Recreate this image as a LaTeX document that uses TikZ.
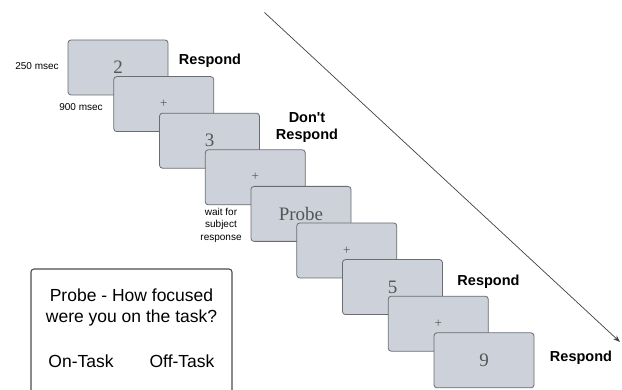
\documentclass[tikz,border=0pt]{standalone}
\usepackage{fontspec}
\setmainfont{Liberation Sans}
\newfontfamily\serifface{Liberation Serif}
\usetikzlibrary{arrows.meta}
\definecolor{cardfill}{HTML}{CDD1DA}
\definecolor{cardedge}{HTML}{6A6C70}
\definecolor{cardtext}{HTML}{555555}
\begin{document}
\begin{tikzpicture}[x=1pt,y=-1pt,
  card/.style={draw=cardedge, fill=cardfill, line width=0.8pt, rounded corners=3pt,
    minimum width=100pt, minimum height=55pt, inner sep=0pt, text=cardtext},
  stim/.style={font=\serifface\fontsize{19}{19}\selectfont},
  fix/.style={font=\serifface\fontsize{13}{13}\selectfont},
  resp/.style={font=\bfseries\fontsize{14.5}{17}\selectfont, align=center},
  small/.style={font=\fontsize{10}{12.5}\selectfont, align=center},
  big/.style={font=\fontsize{17.5}{21}\selectfont, align=center}]
\useasboundingbox (0,0) rectangle (622,390);
\begin{scope}
\clip (0,0) rectangle (622,390);

% time axis
\coordinate (tstart) at (264.5,12.5);
\coordinate (tend) at (620,342);
\draw[line width=0.7pt, draw=black!75, -{Stealth[length=7pt,width=5pt]}] (tstart) -- (tend);

% cascade of stimulus cards
\node[card, stim] (c1) at (118,67.5) {2};
\node[card, fix]  (c2) at (163.75,104.1) {+};
\node[card, stim] (c3) at (209.5,140.7) {3};
\node[card, fix]  (c4) at (255.25,177.3) {+};
\node[card, stim] (c5) at (301,213.9) {Probe};
\node[card, fix]  (c6) at (346.75,250.5) {+};
\node[card, stim] (c7) at (392.5,287.1) {5};
\node[card, fix]  (c8) at (438.25,323.7) {+};
\node[card, stim] (c9) at (484,360.3) {9};

% timing and response labels
\node[small] (t1) at (37,66) {250 msec};
\node[small] (t2) at (81,107.5) {900 msec};
\node[small] (t3) at (221,225) {wait for\\subject\\response};
\node[resp] (r1) at (210,61) {Respond};
\node[resp] (r3) at (307,128) {Don\textquotesingle t\\Respond};
\node[resp] (r7) at (488.5,282) {Respond};
\node[resp] (r9) at (581,358) {Respond};

% probe question panel
\draw[draw=black!70, line width=1.1pt, rounded corners=3pt] (31,269) rectangle (232,400);
\node[big] (q) at (131.5,307) {Probe - How focused\\were you on the task?};
\node[big] (on) at (81,361) {On-Task};
\node[big] (off) at (182,361) {Off-Task};
\end{scope}
\end{tikzpicture}
\end{document}
